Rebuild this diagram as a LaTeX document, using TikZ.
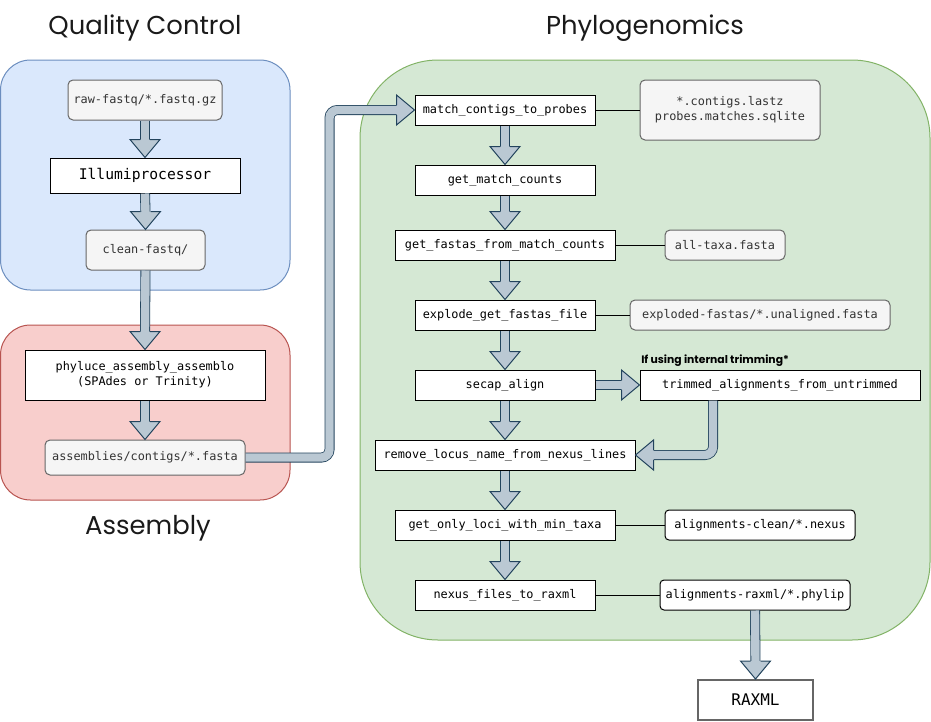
\documentclass[tikz,border=0pt]{standalone}
\usepackage{fontspec}
\setmonofont{DejaVu Sans Mono}
\newfontfamily\titlefont{Poppins}
\usetikzlibrary{calc}
\definecolor{qcfill}{HTML}{DAE8FC}\definecolor{qcline}{HTML}{6C8EBF}
\definecolor{asfill}{HTML}{F8CECC}\definecolor{asline}{HTML}{B85450}
\definecolor{phfill}{HTML}{D5E8D4}\definecolor{phline}{HTML}{82B366}
\definecolor{filefill}{HTML}{F5F5F5}\definecolor{fileline}{HTML}{666666}
\definecolor{arrfill}{HTML}{BAC8D3}\definecolor{arrline}{HTML}{23445D}
\definecolor{filetext}{HTML}{333333}
\definecolor{titletext}{HTML}{1A1A1A}
\tikzset{
  sz/.style 2 args={minimum width=#1*0.75pt, minimum height=#2*0.75pt},
  proc/.style={draw=black, fill=white, line width=0.75pt, inner sep=0pt,
    font=\ttfamily\fontsize{8.9}{11}\selectfont, text=black, align=center},
  file/.style={draw=fileline, fill=filefill, line width=0.75pt, inner sep=0pt,
    rounded corners=5*0.75pt, font=\ttfamily\fontsize{8.9}{11}\selectfont,
    text=filetext, align=center},
  group/.style={line width=0.75pt},
  title/.style={font=\titlefont\fontsize{19.4}{24}\selectfont, text=titletext},
  link/.style={draw=black, line width=0.75pt},
  shaftout/.style={draw=arrline, line width=10*0.75pt, rounded corners=8*0.75pt},
  shaftin/.style={draw=arrfill, line width=8.4*0.75pt, rounded corners=8*0.75pt},
  headst/.style={fill=arrfill, draw=arrline, line width=0.75pt, line join=miter},
}
\newcommand\shaftpath[1]{\draw[shaftout] #1; \draw[shaftin] #1;}
\newcommand\headdown[1]{\path[headst] ($(#1)+(-5,-18)$) -- ($(#1)+(-15,-18)$) -- (#1) -- ($(#1)+(15,-18)$) -- ($(#1)+(5,-18)$);}
\newcommand\headright[1]{\path[headst] ($(#1)+(-18,-5)$) -- ($(#1)+(-18,-15)$) -- (#1) -- ($(#1)+(-18,15)$) -- ($(#1)+(-18,5)$);}
\newcommand\headleft[1]{\path[headst] ($(#1)+(18,-5)$) -- ($(#1)+(18,-15)$) -- (#1) -- ($(#1)+(18,15)$) -- ($(#1)+(18,5)$);}
\newcommand\varr[2]{\shaftpath{(#1.south) -- ($(#2.north)+(0,-17)$)}\headdown{#2.north}}
\begin{document}
\begin{tikzpicture}[x=0.75pt,y=-0.75pt]
\useasboundingbox (0,0) rectangle (931,721);
% groups
\draw[group, draw=qcline, fill=qcfill, rounded corners=30*0.75pt] (0.5,60) rectangle (290,290);
\draw[group, draw=asline, fill=asfill, rounded corners=30*0.75pt] (0.5,325) rectangle (290,500);
\draw[group, draw=phline, fill=phfill, rounded corners=78*0.75pt] (360,60) rectangle (930,640);
% titles
\node[title] (tqc) at (145,28) {Quality Control};
\node[title] (tph) at (645,28) {Phylogenomics};
\node[title] (tas) at (148,528) {Assembly};
% QC
\node[file, sz={154}{40}] (raw) at (145,100) {raw-fastq/*.fastq.gz};
\node[proc, sz={190}{35}, font=\ttfamily\fontsize{11}{13}\selectfont] (illumi) at (145,175.5) {Illumiprocessor};
\node[file, sz={119}{40}] (clean) at (145.5,250) {clean-fastq/};
% Assembly
\node[proc, sz={240}{50}] (phyl) at (145,375) {phyluce\_assembly\_assemblo\\(SPAdes or Trinity)};
\node[file, sz={200}{35}] (assem) at (145,457.5) {assemblies/contigs/*.fasta};
% Phylogenomics
\node[proc, sz={180}{30}] (match) at (505,110) {match\_contigs\_to\_probes};
\node[file, sz={180}{60}] (contigs) at (730,110) {*.contigs.lastz\\probes.matches.sqlite};
\node[proc, sz={180}{30}] (gmc) at (505,180) {get\_match\_counts};
\node[proc, sz={220}{30}] (gff) at (505,245) {get\_fastas\_from\_match\_counts};
\node[file, sz={120}{30}] (alltaxa) at (725,245) {all-taxa.fasta};
\node[proc, sz={180}{30}] (expl) at (505,315) {explode\_get\_fastas\_file};
\node[file, sz={260}{30}] (exploded) at (760,315) {exploded-fastas/*.unaligned.fasta};
\node[proc, sz={180}{30}] (secap) at (505,385) {secap\_align};
\node[proc, sz={280}{30}] (trim) at (780,385) {trimmed\_alignments\_from\_untrimmed};
\node[anchor=south west, inner sep=0pt, font=\titlefont\bfseries\fontsize{8.1}{9}\selectfont] (trimlab) at (641,366.5) {If using internal trimming*};
\node[proc, sz={260}{30}] (remove) at (505,455) {remove\_locus\_name\_from\_nexus\_lines};
\node[proc, sz={220}{30}] (gol) at (505,525) {get\_only\_loci\_with\_min\_taxa};
\node[proc, sz={190}{30}, rounded corners=4*0.75pt] (aclean) at (760,525) {alignments-clean/*.nexus};
\node[proc, sz={180}{30}] (nexus) at (505,595) {nexus\_files\_to\_raxml};
\node[proc, sz={190}{30}, rounded corners=4*0.75pt] (araxml) at (755,595) {alignments-raxml/*.phylip};
\node[proc, sz={115}{40}, draw=fileline, line width=1.5pt, font=\ttfamily\fontsize{12}{14}\selectfont] (raxml) at (755.5,700) {RAXML};
% plain links
\draw[link] (match.east) -- (match.east -| contigs.west);
\draw[link] (gff.east) -- (gff.east -| alltaxa.west);
\draw[link] (expl.east) -- (expl.east -| exploded.west);
\draw[link] (gol.east) -- (gol.east -| aclean.west);
\draw[link] (nexus.east) -- (nexus.east -| araxml.west);
% block arrows
\varr{raw}{illumi}
\varr{illumi}{clean}
\varr{clean}{phyl}
\varr{phyl}{assem}
\coordinate (bend1) at ($(match.west)+(-85,0)$);
\shaftpath{(assem.east) -| (bend1) -- ($(match.west)+(-17,0)$)}
\headright{match.west}
\varr{match}{gmc}
\varr{gmc}{gff}
\varr{gff}{expl}
\varr{expl}{secap}
\shaftpath{(secap.east) -- ($(trim.west)+(-17,0)$)}
\headright{trim.west}
\varr{secap}{remove}
\coordinate (trimout) at ($(trim.south)+(-67,0)$);
\shaftpath{(trimout) |- ($(remove.east)+(17,0)$)}
\headleft{remove.east}
\varr{remove}{gol}
\varr{gol}{nexus}
\varr{araxml}{raxml}
\end{tikzpicture}
\end{document}
